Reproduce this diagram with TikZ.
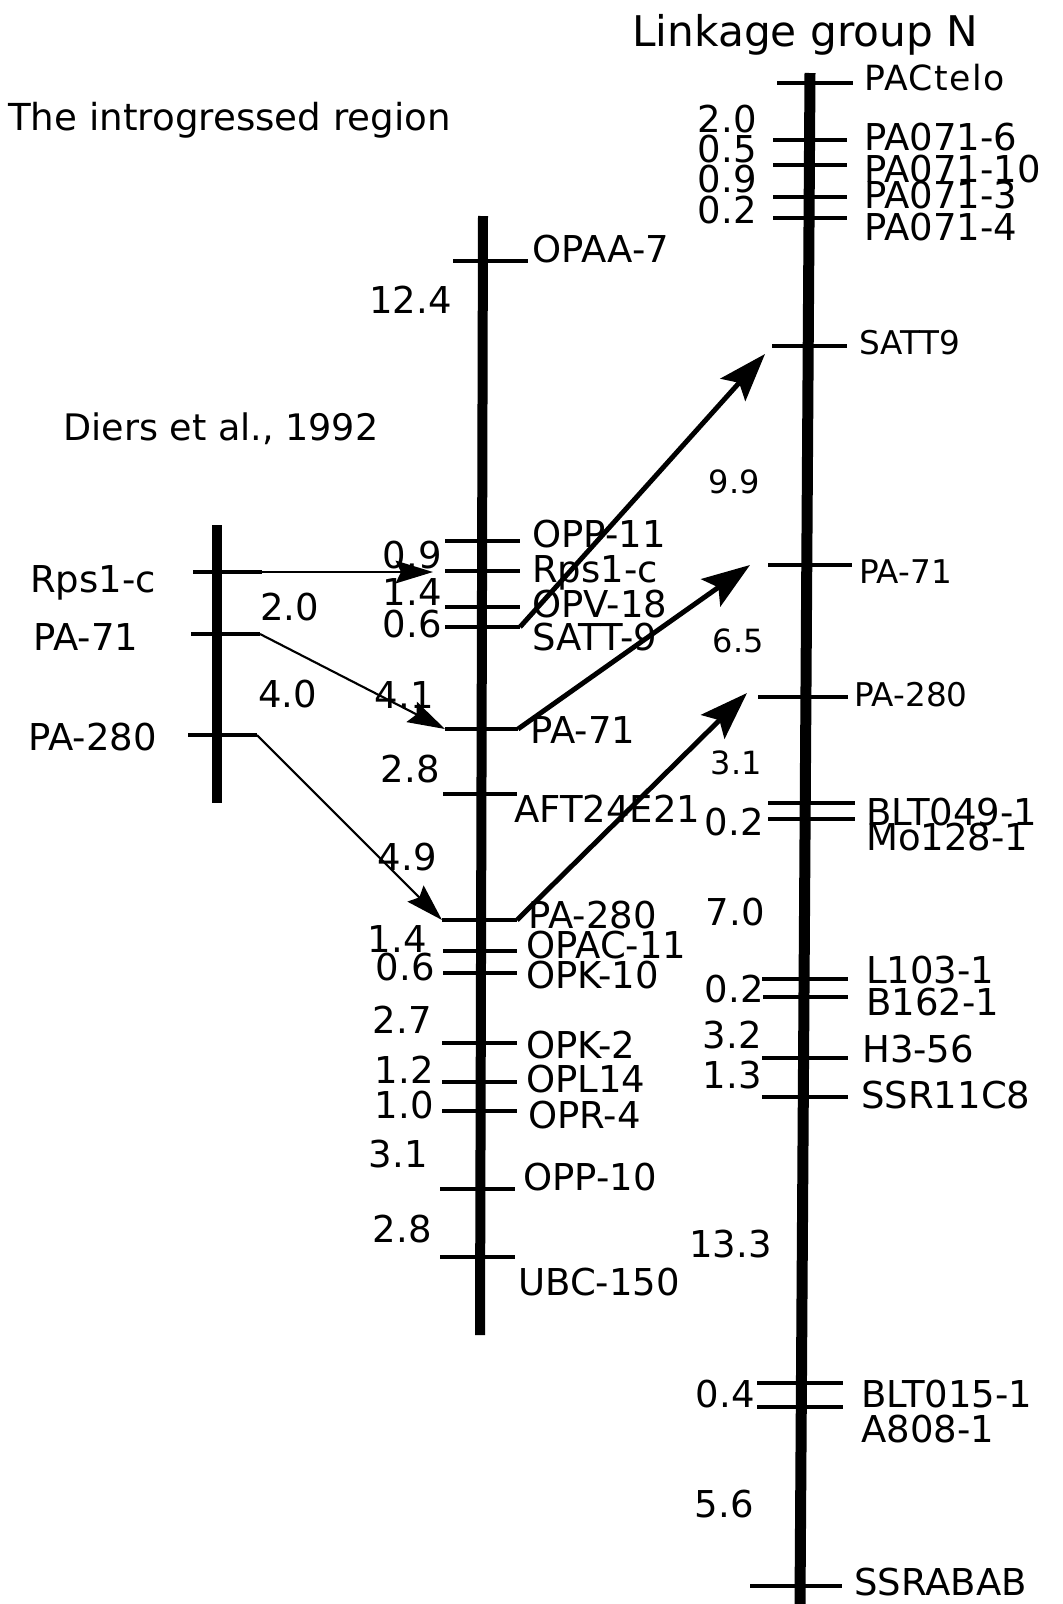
\documentclass[tikz,border=0pt]{standalone}
\usepackage{fontspec}
\setmainfont{DejaVu Sans}
\newfontfamily\spacedfont[LetterSpace=4]{DejaVu Sans}
\usetikzlibrary{arrows.meta}
\newcommand\tk[4]{\draw[tickline] (#2,#1) coordinate (#4L) -- (#3,#1) coordinate (#4R);}
\begin{document}
\begin{tikzpicture}[x=0.75pt,y=-0.75pt,
  bar/.style={line width=7.5pt},
  rbar/.style={line width=8.25pt},
  tickline/.style={line width=2.6pt},
  lab/.style={inner sep=0pt,anchor=base west,font=\fontsize{27.75}{30}\selectfont},
  dist/.style={inner sep=0pt,anchor=base east,font=\fontsize{27.75}{30}\selectfont},
  slab/.style={inner sep=0pt,anchor=base west,font=\fontsize{24.5}{27}\selectfont},
  sdist/.style={inner sep=0pt,anchor=base east,font=\fontsize{24}{26}\selectfont},
  sslab/.style={inner sep=0pt,anchor=base west,font={\spacedfont\fontsize{26}{28}\selectfont}},
  heading/.style={inner sep=0pt,anchor=base west,font=\fontsize{27.9}{30}\selectfont},
  bigheading/.style={inner sep=0pt,anchor=base west,font=\fontsize{31.7}{34}\selectfont},
  thinarr/.style={line width=1.6pt,-{Stealth[length=28pt,width=17pt,inset=4pt]}},
  thickarr/.style={line width=3.7pt,-{Stealth[length=36pt,width=25pt,inset=7pt]}}
]
\fill[white] (0,0) rectangle (1063,1604);
\useasboundingbox (0,0) rectangle (1063,1604);

% headings
\node[bigheading] (hLG) at (632,46) {Linkage group N};
\node[heading] (hIntro) at (8,130) {The introgressed region};
\node[heading,font=\fontsize{27.4}{30}\selectfont] (hDiers) at (63,440) {Diers et al., 1992};

% ---------- left chromosome (Diers et al.)
\draw[bar] (217,525) -- (217,803);
\tk{572}{193}{262}{lRps}
\tk{634}{191}{260}{lPAa}
\tk{735}{188}{257}{lPAb}
\node[lab] (lRpsT) at (30,592) {Rps1-c};
\node[lab] (lPAaT) at (33,650) {PA-71};
\node[lab] (lPAbT) at (28,750) {PA-280};
\node[lab] (lD1) at (260,620) {2.0};
\node[lab] (lD2) at (258,707) {4.0};

% ---------- middle chromosome (introgressed region)
\draw[bar] (483,216) -- (480,1335);
\tk{261}{453}{528}{mOPAA}
\tk{541}{445}{520}{mOPPa}
\tk{571}{445}{520}{mRps}
\tk{607}{445}{520}{mOPV}
\tk{627}{445}{520}{mSATT}
\tk{729}{445}{518}{mPAa}
\tk{794}{443}{517}{mAFT}
\tk{920}{442}{517}{mPAb}
\tk{951}{443}{517}{mOPAC}
\tk{973}{443}{517}{mOPKa}
\tk{1043}{442}{517}{mOPKb}
\tk{1082}{442}{517}{mOPL}
\tk{1111}{442}{517}{mOPR}
\tk{1189}{440}{515}{mOPPb}
\tk{1257}{440}{515}{mUBC}

\node[lab] (mOPAAT) at (532,262) {OPAA-7};
\node[lab] (mOPPaT) at (532,547) {OPP-11};
\node[lab] (mRpsT) at (532,582) {Rps1-c};
\node[lab] (mOPVT) at (532,617) {OPV-18};
\node[lab] (mSATTT) at (532,650) {SATT-9};
\node[lab] (mPAaT) at (530,743) {PA-71};
\node[lab] (mAFTT) at (514,822) {AFT24E21};
\node[lab] (mPAbT) at (528,928) {PA-280};
\node[lab] (mOPACT) at (526,958) {OPAC-11};
\node[lab] (mOPKaT) at (526,988) {OPK-10};
\node[lab] (mOPKbT) at (526,1058) {OPK-2};
\node[lab] (mOPLT) at (526,1092) {OPL14};
\node[lab] (mOPRT) at (528,1128) {OPR-4};
\node[lab] (mOPPbT) at (523,1190) {OPP-10};
\node[lab] (mUBCT) at (518,1295) {UBC-150};

\node[dist] (mD1) at (452,313) {12.4};
\node[dist] (mD2) at (442,568) {0.9};
\node[dist] (mD3) at (442,605) {1.4};
\node[dist] (mD4) at (442,637) {0.6};
\node[dist] (mD5) at (434,708) {4.1};
\node[dist] (mD6) at (440,782) {2.8};
\node[dist] (mD7) at (437,870) {4.9};
\node[dist] (mD8) at (427,952) {1.4};
\node[dist] (mD9) at (435,980) {0.6};
\node[dist] (mD10) at (432,1033) {2.7};
\node[dist] (mD11) at (434,1083) {1.2};
\node[dist] (mD12) at (434,1118) {1.0};
\node[dist] (mD13) at (428,1167) {3.1};
\node[dist] (mD14) at (432,1242) {2.8};

% ---------- right chromosome (linkage group N)
\draw[rbar] (810,73) -- (800,1604);
\tk{83}{777}{853}{rTelo}
\tk{140}{773}{847}{rPAd}
\tk{165}{773}{847}{rPAe}
\tk{197}{773}{847}{rPAf}
\tk{218}{773}{847}{rPAg}
\tk{346}{772}{847}{rSATT}
\tk{565}{768}{852}{rPAa}
\tk{697}{758}{848}{rPAb}
\tk{803}{768}{855}{rBLTa}
\tk{819}{768}{855}{rMo}
\tk{979}{762}{848}{rL}
\tk{997}{763}{848}{rB}
\tk{1058}{762}{848}{rH}
\tk{1097}{762}{848}{rSSR}
\tk{1383}{757}{843}{rBLTb}
\tk{1407}{757}{843}{rA}
\tk{1586}{750}{842}{rSSRAB}

\node[sslab] (rTeloT) at (864,90) {PACtelo};
\node[lab] (rPAdT) at (864,150) {PA071-6};
\node[lab] (rPAeT) at (864,182) {PA071-10};
\node[lab] (rPAfT) at (864,208) {PA071-3};
\node[lab] (rPAgT) at (864,240) {PA071-4};
\node[slab] (rSATTT) at (859,354) {SATT9};
\node[slab] (rPAaT) at (859,583) {PA-71};
\node[slab] (rPAbT) at (854,706) {PA-280};
\node[lab] (rBLTaT) at (866,825) {BLT049-1};
\node[lab] (rMoT) at (866,850) {Mo128-1};
\node[lab] (rLT) at (866,983) {L103-1};
\node[lab] (rBT) at (866,1015) {B162-1};
\node[lab] (rHT) at (862,1062) {H3-56};
\node[lab] (rSSRT) at (861,1108) {SSR11C8};
\node[lab] (rBLTbT) at (861,1407) {BLT015-1};
\node[lab] (rAT) at (861,1442) {A808-1};
\node[lab] (rSSRABT) at (854,1595) {SSRABAB};

\node[dist] (rD1) at (757,132) {2.0};
\node[dist] (rD2) at (757,162) {0.5};
\node[dist] (rD3) at (757,192) {0.9};
\node[dist] (rD4) at (757,223) {0.2};
\node[sdist] (rD5) at (760,493) {9.9};
\node[sdist] (rD6) at (764,652) {6.5};
\node[sdist] (rD7) at (762,774) {3.1};
\node[dist] (rD8) at (764,835) {0.2};
\node[dist] (rD9) at (765,925) {7.0};
\node[dist] (rD10) at (764,1002) {0.2};
\node[dist] (rD11) at (762,1048) {3.2};
\node[dist] (rD12) at (762,1088) {1.3};
\node[dist] (rD13) at (772,1257) {13.3};
\node[dist] (rD14) at (755,1407) {0.4};
\node[dist] (rD15) at (754,1517) {5.6};

% ---------- arrows
\coordinate (tipRps) at (433,572);
\draw[thinarr] (lRpsR) -- (tipRps);
\draw[thinarr] (lPAaR) -- (mPAaL);
\draw[thinarr] (lPAbR) -- (mPAbL);
\coordinate (tipS) at (765,354);
\coordinate (tipA) at (750,565);
\coordinate (tipB) at (747,693);
\draw[thickarr] (mSATTR) -- (tipS);
\draw[thickarr] (mPAaR) -- (tipA);
\draw[thickarr] (mPAbR) -- (tipB);
\end{tikzpicture}
\end{document}
